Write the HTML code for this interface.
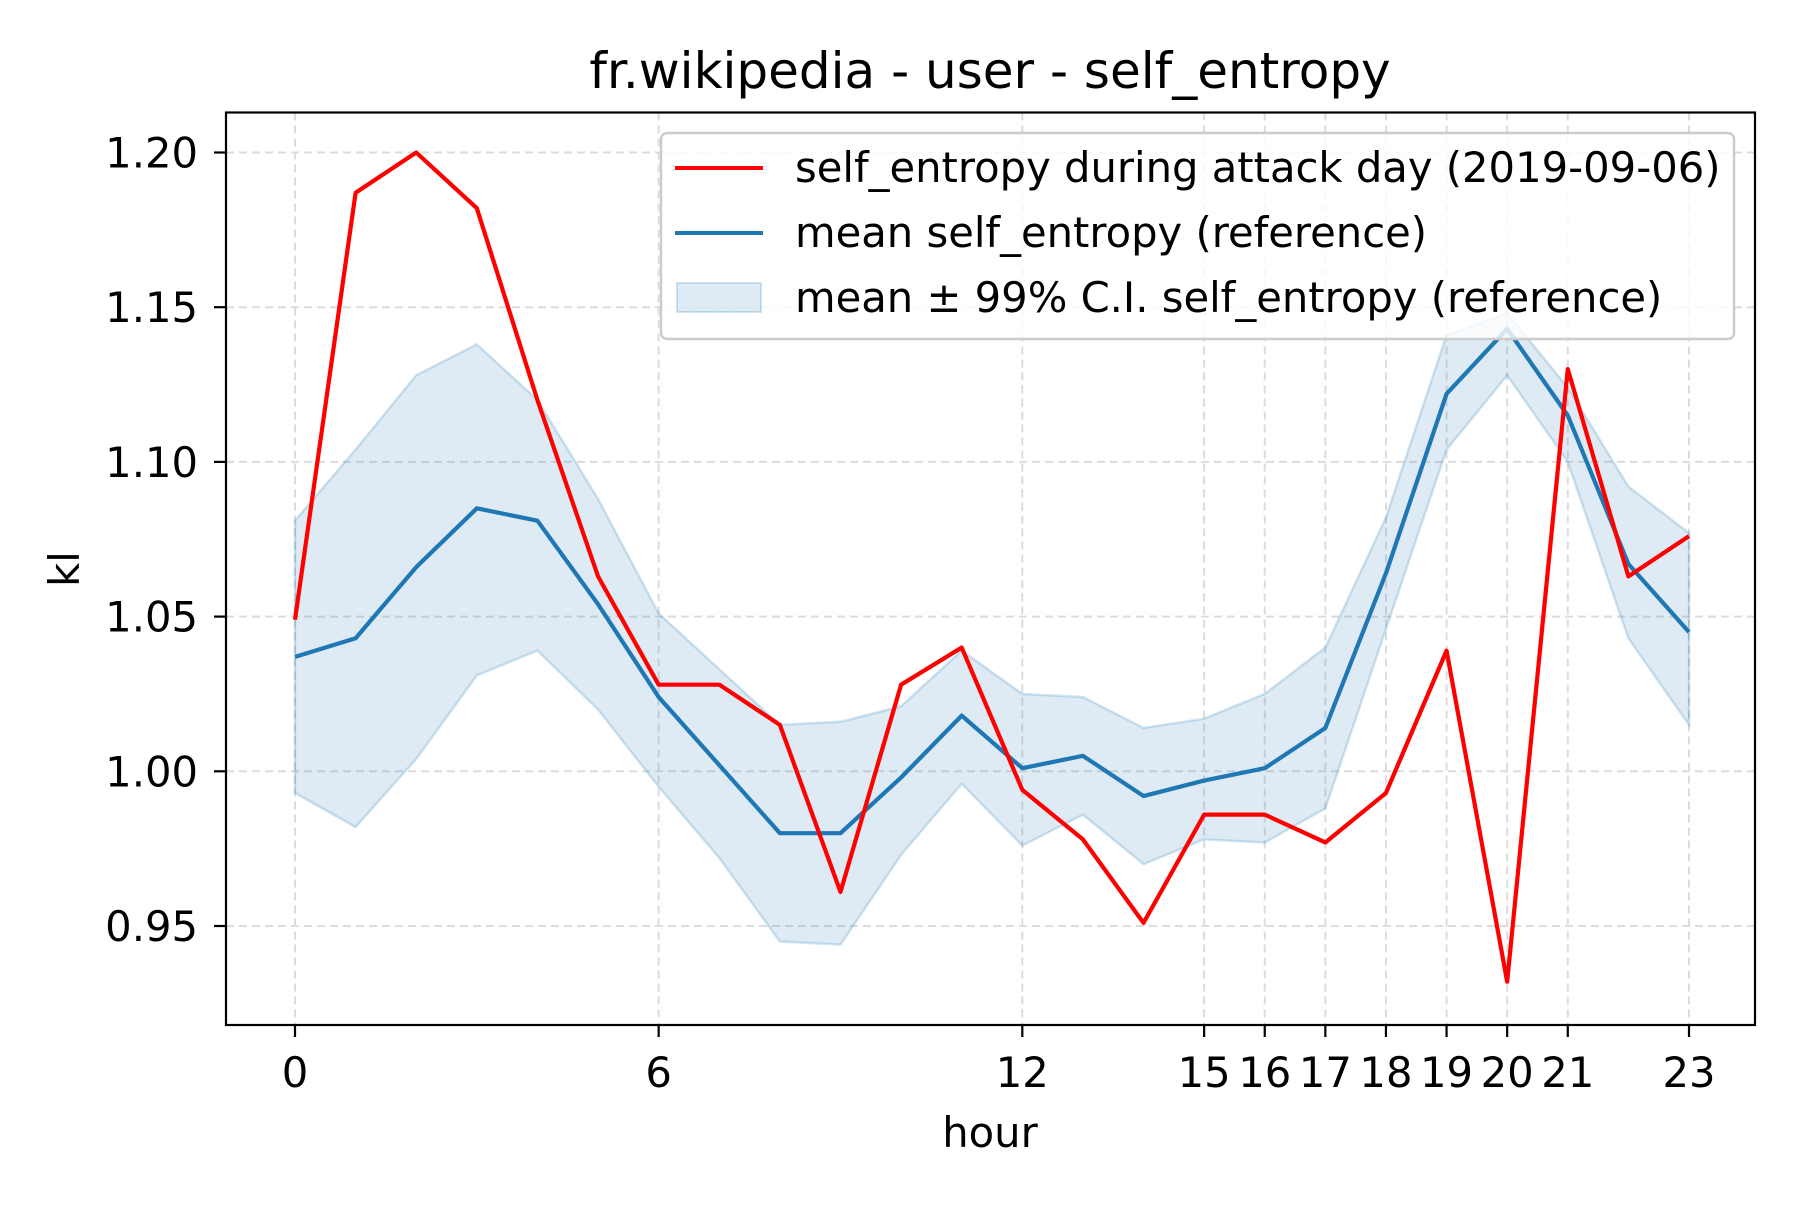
<!DOCTYPE html>
<html><head><meta charset="utf-8"><style>
html,body{margin:0;padding:0;background:#fff;}
svg text{font-family:"DejaVu Sans","Liberation Sans",sans-serif;fill:#000;}
</style></head><body>
<svg id="chart" width="1800" height="1200" viewBox="0 0 1800 1200" xmlns="http://www.w3.org/2000/svg">
<rect width="1800" height="1200" fill="#fff"/>
<g id="grid"></g>
<g id="band"></g>
<g id="lines"></g>
<rect x="226" y="112.5" width="1529" height="912.5" fill="none" stroke="#000" stroke-width="2.2"/>
<g id="ticks"></g>
<text x="990" y="88" font-size="50" text-anchor="middle">fr.wikipedia - user - self_entropy</text>
<text x="990" y="1147" font-size="41.7" text-anchor="middle">hour</text>
<text x="0" y="0" font-size="41.7" text-anchor="middle" transform="translate(79,569) rotate(-90)">kl</text>
<g>
<rect x="661" y="133" width="1073" height="206" rx="6" fill="#fff" fill-opacity="0.8" stroke="#ccc" stroke-width="2.5"/>
<line x1="675" y1="168" x2="763" y2="168" stroke="#ff0000" stroke-width="4"/>
<text x="795" y="182" font-size="41.7">self_entropy during attack day (2019-09-06)</text>
<line x1="675" y1="233" x2="763" y2="233" stroke="#1f77b4" stroke-width="4"/>
<text x="795" y="247" font-size="41.7">mean self_entropy (reference)</text>
<rect x="677" y="283" width="84" height="29" fill="#1f77b4" fill-opacity="0.15" stroke="#1f77b4" stroke-opacity="0.2" stroke-width="2"/>
<text x="795" y="312" font-size="41.7">mean ± 99% C.I. self_entropy (reference)</text>
</g>
</svg>
<script>
const hours = [0,1,2,3,4,5,6,7,8,9,10,11,12,13,14,15,16,17,18,19,20,21,22,23];
const attackValues = [1.049,1.187,1.200,1.182,1.120,1.063,1.028,1.028,1.015,0.961,1.028,1.040,0.994,0.978,0.951,0.986,0.986,0.977,0.993,1.039,0.932,1.130,1.063,1.076];
const meanValues = [1.037,1.043,1.066,1.085,1.081,1.054,1.024,1.002,0.980,0.980,0.998,1.018,1.001,1.005,0.992,0.997,1.001,1.014,1.064,1.122,1.143,1.115,1.067,1.045];
const upperValues = [1.081,1.104,1.128,1.138,1.120,1.088,1.051,1.033,1.015,1.016,1.021,1.039,1.025,1.024,1.014,1.017,1.025,1.040,1.082,1.141,1.148,1.124,1.092,1.077];
const lowerValues = [0.993,0.982,1.004,1.031,1.039,1.020,0.995,0.972,0.945,0.944,0.973,0.996,0.976,0.986,0.970,0.978,0.977,0.988,1.046,1.104,1.128,1.100,1.043,1.015];
const xTicks = [0,6,12,15,16,17,18,19,20,21,23];
const yTicks = [0.95,1.00,1.05,1.10,1.15,1.20];
const yTickLabels = ["0.95","1.00","1.05","1.10","1.15","1.20"];

const NS = "http://www.w3.org/2000/svg";
const PL = 226, PR = 1755, PT = 112.5, PB = 1025;
function xS(h){ return 295 + (h - 0) * (1689 - 295) / 23; }
function yS(v){ return 152.5 + (1.20 - v) * 154.7 / 0.05; }
function mk(tag, attrs, parent){ const e = document.createElementNS(NS, tag); for (const k in attrs) e.setAttribute(k, attrs[k]); parent.appendChild(e); return e; }

const grid = document.getElementById('grid');
const ticks = document.getElementById('ticks');
xTicks.forEach(function(t){
  const x = xS(t);
  const g = mk('line', {x1:x, y1:PT, x2:x, y2:PB, stroke:'#dcdcdc', 'stroke-width':2, 'stroke-dasharray':'8,5'}, grid);
  
  
  const tk = mk('line', {x1:x, y1:PB, x2:x, y2:PB+12, stroke:'#000', 'stroke-width':2.2}, ticks);
  
  
  const tl = mk('text', {x:x, y:PB+62, 'font-size':41.7, 'text-anchor':'middle'}, ticks);
  tl.textContent = String(t);
  
  
});
yTicks.forEach(function(t, i){
  const y = yS(t);
  const g = mk('line', {x1:PL, y1:y, x2:PR, y2:y, stroke:'#dcdcdc', 'stroke-width':2, 'stroke-dasharray':'8,5'}, grid);
  
  
  const tk = mk('line', {x1:PL-12, y1:y, x2:PL, y2:y, stroke:'#000', 'stroke-width':2.2}, ticks);
  
  
  const tl = mk('text', {x:PL-28, y:y+15, 'font-size':41.7, 'text-anchor':'end'}, ticks);
  tl.textContent = yTickLabels[i];
  
  
});

const band = document.getElementById('band');
let pts = hours.map(function(h, i){ return xS(h) + ',' + yS(upperValues[i]); });
for (let i = hours.length - 1; i >= 0; i--) pts.push(xS(hours[i]) + ',' + yS(lowerValues[i]));
const poly = mk('polygon', {points: pts.join(' '), fill:'#1f77b4', 'fill-opacity':0.15, stroke:'#1f77b4', 'stroke-opacity':0.2, 'stroke-width':2.5}, band);



const lines = document.getElementById('lines');
const meanLine = mk('polyline', {points: hours.map(function(h, i){ return xS(h) + ',' + yS(meanValues[i]); }).join(' '), fill:'none', stroke:'#1f77b4', 'stroke-width':4.2, 'stroke-linejoin':'round'}, lines);


const attackLine = mk('polyline', {points: hours.map(function(h, i){ return xS(h) + ',' + yS(attackValues[i]); }).join(' '), fill:'none', stroke:'#ff0000', 'stroke-width':4.2, 'stroke-linejoin':'round'}, lines);


</script>
</body></html>
